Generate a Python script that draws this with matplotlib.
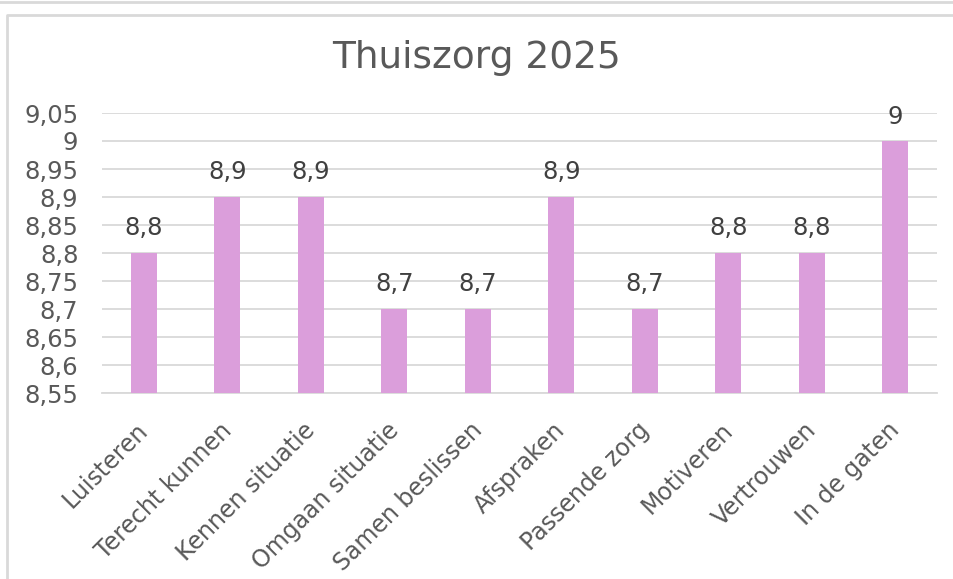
import matplotlib
matplotlib.use("Agg")
import matplotlib.pyplot as plt
from matplotlib.lines import Line2D
from matplotlib.transforms import ScaledTranslation

# DATA
categories = [
    "Luisteren", "Terecht kunnen", "Kennen situatie", "Omgaan situatie",
    "Samen beslissen", "Afspraken", "Passende zorg", "Motiveren",
    "Vertrouwen", "In de gaten",
]
scores = [8.8, 8.9, 8.9, 8.7, 8.7, 8.9, 8.7, 8.8, 8.8, 9.0]
y_ticks = [8.55, 8.6, 8.65, 8.7, 8.75, 8.8, 8.85, 8.9, 8.95, 9.0, 9.05]
y_tick_labels = ["8,55", "8,6", "8,65", "8,7", "8,75", "8,8", "8,85",
                 "8,9", "8,95", "9", "9,05"]
title = "Thuiszorg 2025"

W, H = 954, 579
BAR = "#DB9EDB"
GRID = "#D9D9D9"
TXT = "#595959"


def fx(px):
    return px / W


def fy(py):
    return 1 - py / H


fig = plt.figure(figsize=(W / 100, H / 100), dpi=100)
fig.patch.set_facecolor("white")

# outer frame lines (page chrome around the chart)
fig.add_artist(Line2D([0, 1], [fy(1.5), fy(1.5)], transform=fig.transFigure,
                      color=GRID, lw=2))
fig.add_artist(Line2D([fx(7.5), fx(7.5), 1], [0, fy(14.5), fy(14.5)],
                      transform=fig.transFigure, color=GRID, lw=2))

ax = fig.add_axes([fx(102), fy(393), fx(937) - fx(102), fy(113) - fy(393)])
x = list(range(len(categories)))
bars = ax.bar(x, scores, width=0.31, color=BAR, zorder=3)

ax.set_xlim(-0.5, len(categories) - 0.5)
ax.set_ylim(y_ticks[0], y_ticks[-1])
ax.set_yticks(y_ticks)
ax.set_yticklabels(y_tick_labels)
ax.yaxis.grid(True, color=GRID, lw=1.3, zorder=0)
ax.set_axisbelow(True)
for s in ("top", "right", "left"):
    ax.spines[s].set_visible(False)
ax.spines["bottom"].set_color(GRID)
ax.spines["bottom"].set_linewidth(1.3)
ax.tick_params(axis="y", length=0, pad=17, labelsize=17.5, labelcolor=TXT)
ax.tick_params(axis="x", length=0, pad=18, labelsize=17, labelcolor=TXT)
ax.set_xticks(x)
ax.set_xticklabels(categories, rotation=45, ha="right", rotation_mode="anchor")
shift = ScaledTranslation(-8 / 100, 0, fig.dpi_scale_trans)
for lbl in ax.get_xticklabels():
    lbl.set_transform(lbl.get_transform() + shift)

ax.bar_label(bars, labels=[f"{v:g}".replace(".", ",") for v in scores],
             padding=9, fontsize=17.5, color="#404040")

fig.text(0.5, fy(58), title, ha="center", va="center", fontsize=27, color=TXT)

fig.savefig("out.png", dpi=100)
